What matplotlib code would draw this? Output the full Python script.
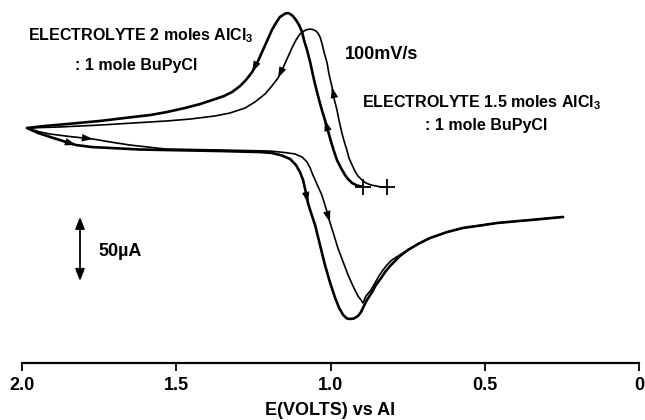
import numpy as np
import matplotlib
matplotlib.use('Agg')
import matplotlib.pyplot as plt

plt.rcParams['font.family'] = ['Liberation Sans', 'DejaVu Sans']
plt.rcParams['font.weight'] = 'bold'
plt.rcParams['mathtext.fontset'] = 'custom'
plt.rcParams['mathtext.rm'] = 'Liberation Sans:bold'
plt.rcParams['mathtext.it'] = 'Liberation Sans:bold'
plt.rcParams['mathtext.bf'] = 'Liberation Sans:bold'

# DATA  (E in volts vs Al, I in microamps, arbitrary zero)
# 2 moles AlCl3 : 1 mole BuPyCl (heavier trace), starting at its "+" marker
E_2 = [0.895, 0.914, 0.930, 0.943, 0.953, 0.966, 0.979, 0.989, 0.998, 1.008, 1.018, 1.028, 1.037,
       1.047, 1.057, 1.066, 1.076, 1.086, 1.092, 1.102, 1.112, 1.122, 1.131, 1.138,
       1.147, 1.164, 1.177, 1.190, 1.203, 1.219, 1.235, 1.254, 1.274, 1.293, 1.319, 1.345,
       1.374, 1.423, 1.472, 1.530, 1.585, 1.640, 1.747, 1.854, 1.925, 1.984,
       1.948, 1.909, 1.867, 1.825, 1.773, 1.715, 1.618, 1.536, 1.358, 1.229, 1.190, 1.157,
       1.131, 1.112, 1.099, 1.089, 1.083, 1.073, 1.063, 1.050, 1.034, 1.018, 1.002, 0.985,
       0.972, 0.959, 0.947, 0.937, 0.924, 0.911, 0.901, 0.895, 0.882, 0.865, 0.853, 0.836,
       0.823, 0.807, 0.791, 0.775, 0.749, 0.716, 0.678, 0.622, 0.571, 0.515, 0.460, 0.353, 0.246]
I_2 = [-28.9, -27.7, -25.8, -22.7, -19.5, -14.1, -7.8, -0.8, 6.3, 14.8, 23.4, 31.3, 39.1,
       48.4, 58.6, 68.8, 78.1, 85.9, 92.2, 97.7, 101.6, 104.7, 106.3, 107.0,
       106.6, 103.9, 99.2, 93.8, 86.7, 78.1, 69.5, 60.9, 54.7, 50.0, 45.3, 42.2,
       39.8, 35.9, 32.8, 29.7, 27.3, 25.8, 22.7, 20.3, 18.8, 17.2,
       13.3, 10.2, 7.0, 3.9, 2.3, 1.6, 0.4, 0.0, -0.8, -1.6, -2.3, -4.3,
       -7.0, -11.7, -17.2, -23.4, -29.7, -41.4, -49.2, -58.6, -74.2, -89.8, -103.1, -115.6,
       -123.4, -128.9, -131.6, -132.0, -131.6, -129.7, -126.6, -123.4, -117.2, -110.9, -105.5, -100.0,
       -95.3, -90.6, -86.7, -82.8, -78.1, -73.4, -68.8, -64.1, -60.9, -59.0, -57.0, -54.7, -52.3]

# 1.5 moles AlCl3 : 1 mole BuPyCl (lighter trace)
E_15 = [0.817, 0.836, 0.853, 0.869, 0.885, 0.898, 0.911, 0.921, 0.930, 0.940, 0.947, 0.956, 0.963,
        0.972, 0.979, 0.989, 0.995, 1.005, 1.011, 1.021, 1.028, 1.034, 1.041, 1.047, 1.057, 1.066,
        1.076, 1.086, 1.099, 1.112, 1.125, 1.138, 1.154, 1.170, 1.190, 1.212, 1.245, 1.277,
        1.326, 1.374, 1.455, 1.530, 1.640, 1.747, 1.877, 1.984,
        1.942, 1.909, 1.844, 1.770, 1.715, 1.650, 1.536, 1.358, 1.196, 1.147, 1.115, 1.092,
        1.076, 1.066, 1.057, 1.044, 1.028, 1.015, 1.002, 0.989, 0.976, 0.959, 0.943, 0.927,
        0.911, 0.901, 0.895, 0.885, 0.869, 0.856, 0.843, 0.830, 0.817, 0.801, 0.781, 0.749,
        0.716, 0.678, 0.622, 0.571, 0.515, 0.460, 0.353, 0.246]
I_15 = [-28.9, -28.8, -28.1, -27.3, -25.8, -23.4, -20.3, -16.4, -11.7, -6.3, 0.0, 7.0, 13.3,
        22.7, 31.3, 40.6, 49.2, 59.4, 68.0, 76.6, 83.6, 88.3, 91.4, 93.0, 94.1, 94.5,
        94.1, 93.0, 90.6, 85.9, 79.7, 72.7, 64.1, 56.3, 50.0, 43.8, 37.5, 32.8,
        28.9, 26.6, 24.2, 22.7, 21.1, 19.5, 18.0, 17.2,
        14.1, 12.5, 10.5, 8.6, 6.3, 3.9, 0.8, 0.0, -0.8, -2.0, -3.1, -5.5,
        -9.4, -14.1, -19.5, -26.6, -35.2, -45.3, -56.3, -66.4, -76.6, -87.5, -97.7, -106.3,
        -114.1, -117.2, -119.5, -114.1, -109.4, -103.9, -98.4, -93.8, -89.8, -85.9, -82.8, -78.1,
        -73.4, -68.8, -64.1, -60.9, -59.0, -57.0, -54.7, -52.3]

# indices of the points where the direction arrows sit
arrows_2 = [10, 31, 49, 63]
arrows_15 = [16, 33, 49, 64]

xticks = [2.0, 1.5, 1.0, 0.5, 0.0]
xticklabels = ['2.0', '1.5', '1.0', '0.5', '0']
scale_E = 1.812
scale_top = -52.3
scale_len = 50  # microamps

fig = plt.figure(figsize=(6.45, 4.2), dpi=100)
ax = fig.add_axes([22 / 645, 57 / 420, 617 / 645, 363 / 420])

ax.plot(E_2, I_2, color='black', lw=1.9, solid_joinstyle='round', solid_capstyle='round')
ax.plot(E_15, I_15, color='black', lw=1.2, solid_joinstyle='round', solid_capstyle='round')
ax.plot(E_2[0], I_2[0], marker='+', ms=12, mew=1.3, color='black')
ax.plot(E_15[0], I_15[0], marker='+', ms=12, mew=1.3, color='black')

for E, I, idx in [(E_2, I_2, arrows_2), (E_15, I_15, arrows_15)]:
    for i in idx:
        ax.annotate('', xy=(E[i], I[i]), xytext=(E[i - 2], I[i - 2]),
                    arrowprops=dict(arrowstyle='-|>,head_length=0.8,head_width=0.27',
                                    mutation_scale=10, color='black', lw=0,
                                    shrinkA=0, shrinkB=0))

# 50 uA scale bar
ax.annotate('', xy=(scale_E, scale_top - scale_len), xytext=(scale_E, scale_top),
            arrowprops=dict(arrowstyle='<|-|>,head_length=0.7,head_width=0.28',
                            mutation_scale=10, color='black', lw=1.3,
                            shrinkA=0, shrinkB=0))

ax.set_xlim(2.0, 0.0)
ax.set_ylim(-166.4, 117.2)
for s in ['top', 'left', 'right']:
    ax.spines[s].set_visible(False)
ax.spines['bottom'].set_linewidth(1.6)
ax.set_yticks([])
ax.set_xticks(xticks)
ax.set_xticklabels(xticklabels, fontsize=13, fontweight='bold')
ax.tick_params(axis='x', direction='out', length=6, width=1.3, pad=4)
ax.set_xlabel('E(VOLTS) vs Al', fontsize=13, fontweight='bold', labelpad=6)
ax.patch.set_alpha(0)

fig.text(28 / 645, 1 - 40 / 420, 'ELECTROLYTE 2 moles AlCl$_3$', fontsize=11.5, ha='left', va='baseline')
fig.text(136 / 645, 1 - 70 / 420, ': 1 mole BuPyCl', fontsize=11.5, ha='center', va='baseline')
fig.text(345 / 645, 1 - 59 / 420, '100mV/s', fontsize=13, ha='left', va='baseline')
fig.text(362 / 645, 1 - 107 / 420, 'ELECTROLYTE 1.5 moles AlCl$_3$', fontsize=11.5, ha='left', va='baseline')
fig.text(425 / 645, 1 - 130 / 420, ': 1 mole BuPyCl', fontsize=11.5, ha='left', va='baseline')
fig.text(98 / 645, 1 - 256 / 420, '50µA', fontsize=13, ha='left', va='baseline')

fig.savefig('out.png', dpi=100)
